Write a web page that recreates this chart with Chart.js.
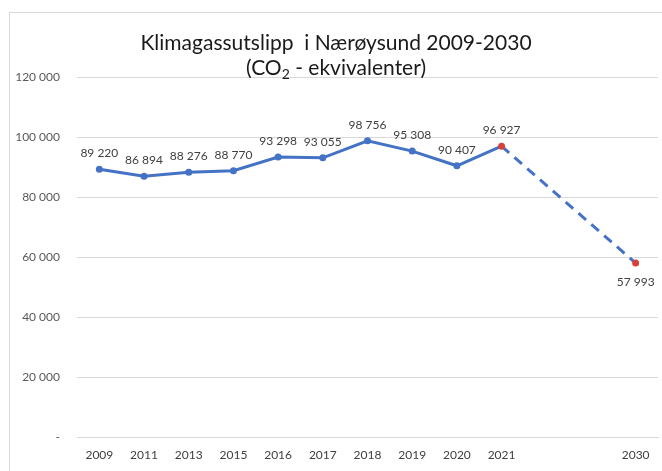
<!DOCTYPE html>
<html>
<head>
<meta charset="utf-8">
<script src="https://cdn.jsdelivr.net/npm/chart.js@4"></script>
<style>
  html, body { margin: 0; padding: 0; background: #fff; }
  #wrap { position: relative; width: 662px; height: 471px; overflow: hidden; }
  #frame { position: absolute; left: 9px; top: 12px; width: 700px; height: 500px; border: 1px solid #d9d9d9; }
  canvas { position: absolute; left: 0; top: 0; }
</style>
</head>
<body>
<div id="wrap">
  <div id="frame"></div>
  <canvas id="myChart" width="662" height="471"></canvas>
</div>
<script>
// years on the x axis (two empty slots before 2030)
const years = ['2009', '2011', '2013', '2015', '2016', '2017', '2018', '2019', '2020', '2021', '', '', '2030'];
// tonnes CO2-equivalents
const emissions = [89220, 86894, 88276, 88770, 93298, 93055, 98756, 95308, 90407, 96927, null, null, 57993];
const yTicks = [0, 20000, 40000, 60000, 80000, 100000, 120000];
const titleLine1 = 'Klimagassutslipp  i Nærøysund 2009-2030';
// second line: [text, subscript?]
const titleLine2 = [['(CO', false], ['2', true], [' - ekvivalenter)', false]];

const blue = '#4472c4';
const red = '#d6423b';
const lastActual = years.indexOf('2021');
const target = years.indexOf('2030');
const fontFam = 'Lato, "Open Sans", sans-serif';

const fmt = (v) => v === 0 ? '-' : String(v).replace(/\B(?=(\d{3})+(?!\d))/g, ' ');

Chart.defaults.font.family = fontFam;

// draws the two-line title in the top of the frame
const titlePlugin = {
  id: 'titleText',
  afterDraw(chart) {
    const ctx = chart.ctx;
    const cx = chart.width / 2 + 5;
    const big = '21px ' + fontFam;
    const small = '14px ' + fontFam;
    ctx.save();
    ctx.fillStyle = '#1a1a1a';
    ctx.textBaseline = 'middle';
    ctx.textAlign = 'center';
    ctx.font = big;
    ctx.fillText(titleLine1, cx, 43);

    // line 2 with a real subscript
    ctx.textAlign = 'left';
    const widths = titleLine2.map(([t, sub]) => { ctx.font = sub ? small : big; return ctx.measureText(t).width; });
    let x = cx - widths.reduce((a, b) => a + b, 0) / 2;
    titleLine2.forEach(([t, sub], i) => {
      ctx.font = sub ? small : big;
      ctx.fillText(t, x, sub ? 74 : 68);
      x += widths[i];
    });
    ctx.restore();
  }
};

// value labels over the points (below for 2030)
const valueLabels = {
  id: 'valueLabels',
  afterDatasetsDraw(chart) {
    const ctx = chart.ctx;
    const meta = chart.getDatasetMeta(0);
    ctx.save();
    ctx.fillStyle = '#404040';
    ctx.font = '12px ' + fontFam;
    ctx.textAlign = 'center';
    ctx.textBaseline = 'middle';
    meta.data.forEach((pt, i) => {
      const v = emissions[i];
      if (v === null) return;
      const dy = i === target ? 19 : -16;
      ctx.fillText(fmt(v), pt.x, pt.y + dy);
    });
    ctx.restore();
  }
};

const ctx = document.getElementById('myChart').getContext('2d');
const myChart = new Chart(ctx, {
  type: 'line',
  data: {
    labels: years,
    datasets: [{
      data: emissions,
      borderColor: blue,
      borderWidth: 3,
      spanGaps: true,
      tension: 0,
      pointRadius: 3.5,
      pointBorderWidth: 0,
      pointBackgroundColor: (c) => (c.dataIndex === lastActual || c.dataIndex === target) ? red : blue,
      segment: {
        borderDash: (c) => c.p1DataIndex === target ? [10, 7] : undefined
      }
    }]
  },
  options: {
    responsive: false,
    animation: false,
    layout: { padding: { top: 77, right: 0, left: 0, bottom: 0 } },
    plugins: {
      legend: { display: false },
      tooltip: { enabled: false }
    },
    scales: {
      x: {
        offset: true,
        grid: { display: false, drawTicks: false },
        border: { display: true, color: '#d9d9d9', width: 1 },
        ticks: { autoSkip: false, maxRotation: 0, padding: 11, color: '#404040', font: { size: 12 } },
        afterFit: (s) => { s.height = 34; }
      },
      y: {
        min: 0,
        max: 120000,
        afterBuildTicks: (s) => { s.ticks = yTicks.map(v => ({ value: v })); },
        grid: { color: '#d9d9d9', drawTicks: false },
        border: { display: false },
        ticks: { padding: 17, color: '#595959', font: { size: 12 }, callback: (v) => fmt(v) },
        afterFit: (s) => { s.width = 77; }
      }
    }
  },
  plugins: [titlePlugin, valueLabels]
});
</script>
</body>
</html>
